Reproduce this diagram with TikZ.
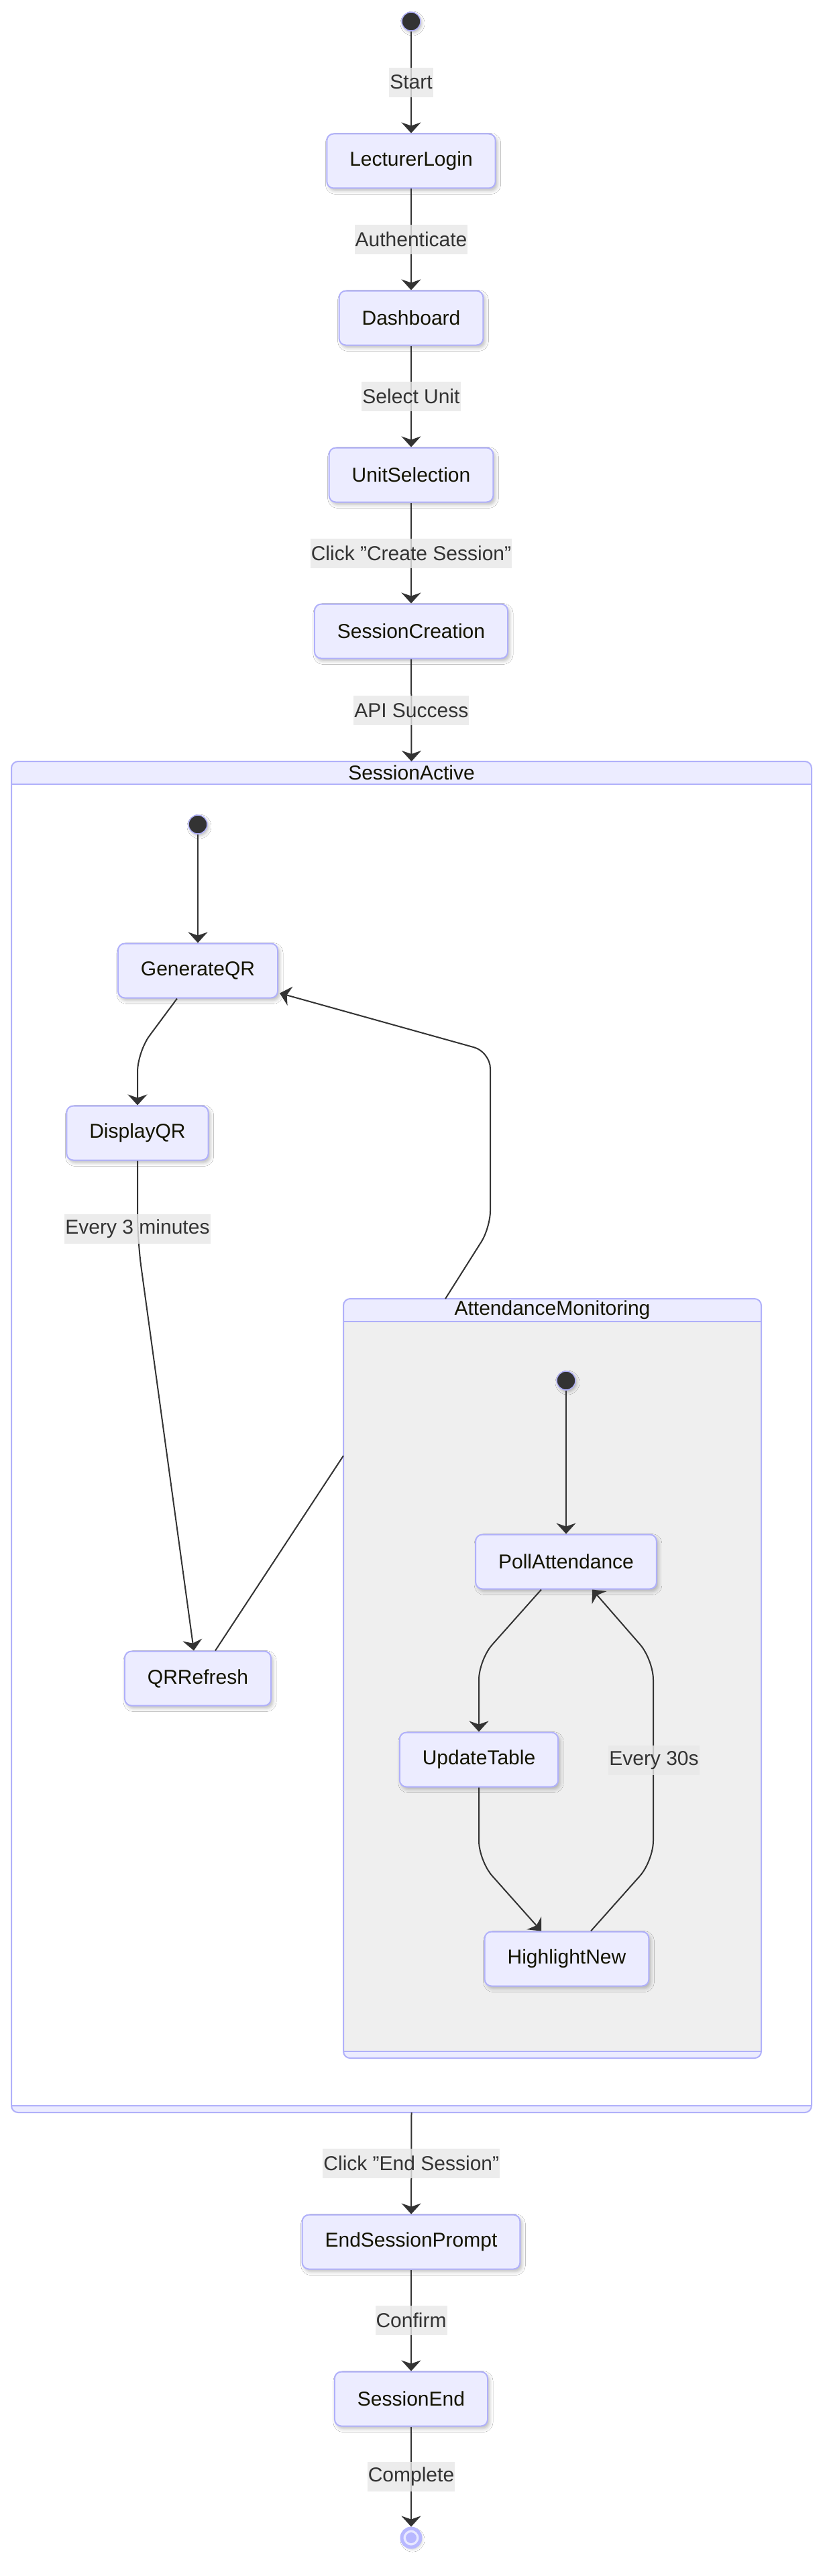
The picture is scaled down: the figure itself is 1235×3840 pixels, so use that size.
\documentclass[tikz,border=0pt]{standalone}
\usepackage{fontspec}
\setmainfont{Liberation Sans}
\usetikzlibrary{arrows.meta,shadows.blur}
\definecolor{bd}{RGB}{176,176,250}
\definecolor{nodefill}{HTML}{ECECFF}
\definecolor{amfill}{HTML}{EFEFEF}
\definecolor{edgec}{HTML}{333333}
\definecolor{lblfill}{HTML}{E8E8E8}
\definecolor{txt}{HTML}{131300}
\definecolor{endring}{RGB}{184,184,255}
\definecolor{endlight}{RGB}{232,232,255}
\tikzset{
  every node/.style={font=\fontsize{30}{35}\selectfont},
  stnode/.style={draw=bd, fill=nodefill, line width=2pt, rounded corners=10pt,
    minimum height=81pt, inner xsep=34pt, inner ysep=0pt, text=txt,
    blur shadow={shadow xshift=3pt, shadow yshift=-4pt, shadow blur radius=5pt, shadow opacity=25}},
  elabel/.style={fill=lblfill, fill opacity=0.8, text opacity=1, text=edgec,
    inner xsep=1pt, inner ysep=0pt, minimum height=44pt},
  conn/.style={draw=edgec, line width=2pt, -{Stealth[length=16pt,width=29pt,inset=5pt]}},
  plainline/.style={draw=edgec, line width=2pt},
  initst/.style={circle, fill=edgec, draw=bd, line width=1.5pt, minimum size=28pt, inner sep=0pt,
    blur shadow={shadow xshift=2pt, shadow yshift=-3pt, shadow blur radius=4pt, shadow opacity=25}},
  cbox/.style={inner sep=0pt, outer sep=0pt},
  ctitle/.style={text=txt, inner sep=0pt},
  bdline/.style={draw=bd, line width=2pt},
}
\begin{document}
\begin{tikzpicture}[x=1pt, y=-1pt]
\useasboundingbox (0,0) rectangle (1235,3840);
\fill[white] (0,0) rectangle (1235,3840);

% ---------- SessionActive container ----------
\node[cbox, minimum width=1193pt, minimum height=2014pt] (SA) at (613.5,2142) {};
\fill[white, rounded corners=10pt] (SA.south west) rectangle (SA.north east);
\begin{scope}
  \clip[rounded corners=10pt] (SA.south west) rectangle (SA.north east);
  \fill[nodefill] (SA.north west) rectangle ([yshift=-34pt]SA.north east);
  \fill[nodefill] (SA.south west) rectangle ([yshift=10pt]SA.south east);
\end{scope}
\draw[bdline] ([yshift=-34pt]SA.north west) -- ([yshift=-34pt]SA.north east);
\draw[bdline] ([yshift=10pt]SA.south west) -- ([yshift=10pt]SA.south east);
\draw[bdline, rounded corners=10pt] (SA.south west) rectangle (SA.north east);
\node[ctitle] (SAt) at ([yshift=-17pt]SA.north) {SessionActive};

% ---------- AttendanceMonitoring container ----------
\node[cbox, minimum width=623pt, minimum height=1132pt] (AM) at (823.5,2502) {};
\fill[amfill, rounded corners=10pt] (AM.south west) rectangle (AM.north east);
\begin{scope}
  \clip[rounded corners=10pt] (AM.south west) rectangle (AM.north east);
  \fill[nodefill] (AM.north west) rectangle ([yshift=-34pt]AM.north east);
  \fill[nodefill] (AM.south west) rectangle ([yshift=10pt]AM.south east);
\end{scope}
\draw[bdline] ([yshift=-34pt]AM.north west) -- ([yshift=-34pt]AM.north east);
\draw[bdline] ([yshift=10pt]AM.south west) -- ([yshift=10pt]AM.south east);
\draw[bdline, rounded corners=10pt] (AM.south west) rectangle (AM.north east);
\node[ctitle] (AMt) at ([yshift=-17pt]AM.north) {AttendanceMonitoring};

% ---------- top chain ----------
\node[initst] (start) at (613,32) {};
\node[stnode] (login) at (613,240) {LecturerLogin};
\node[stnode] (dash) at (613,474) {Dashboard};
\node[stnode] (unit) at (613,708) {UnitSelection};
\node[stnode] (create) at (613,941) {SessionCreation};

% ---------- SessionActive inner ----------
\node[initst] (s2) at (295,1229) {};
\node[stnode] (gen) at (295,1447) {GenerateQR};
\node[stnode] (disp) at (205,1689) {DisplayQR};
\node[stnode] (qrr) at (295,2502) {QRRefresh};

% ---------- AttendanceMonitoring inner ----------
\node[initst] (s3) at (844,2058) {};
\node[stnode] (poll) at (844,2328) {PollAttendance};
\node[stnode] (upd) at (714,2623) {UpdateTable};
\node[stnode] (hl) at (845,2920) {HighlightNew};

% ---------- bottom chain ----------
\node[stnode] (endp) at (613,3342) {EndSessionPrompt};
\node[stnode] (send) at (613,3576) {SessionEnd};
\node[circle, draw=endring, fill=endlight, line width=5pt, minimum size=28pt, inner sep=0pt,
  blur shadow={shadow xshift=2pt, shadow yshift=-3pt, shadow blur radius=4pt, shadow opacity=20}] (fin) at (613,3783) {};
\fill[endring] (fin.center) circle (8pt);

% ---------- connectors ----------
\draw[conn] (start) -- node[elabel] (lstart) {Start} (login);
\draw[conn] (login) -- node[elabel] (lauth) {Authenticate} (dash);
\draw[conn] (dash) -- node[elabel] (lsel) {Select Unit} (unit);
\draw[conn] (unit) -- node[elabel] (lclick) {Click "Create Session"} (create);
\draw[conn] (create) -- node[elabel] (lapi) {API Success} (SA.north);

\draw[conn] (s2) -- (gen);
\draw[conn, rounded corners=30pt] ([xshift=-31pt]gen.south) -- (205,1568) -- (disp.north);
\draw[conn, rounded corners=40pt] (disp.south) -- (205,1849) -- ([xshift=-6pt]qrr.north);
\node[elabel] (l3m) at (205,1832) {Every 3 minutes};
\draw[conn, rounded corners=25pt] ([xshift=-159.5pt]AM.north) -- (731,1830) -- (731,1568) -- ([shift={(2pt,8pt)}]gen.south east);
\draw[plainline] ([xshift=26pt]qrr.north) -- ([yshift=332pt]AM.west);

\draw[conn] (s3) -- (poll);
\draw[conn, rounded corners=30pt] ([xshift=-37pt]poll.south) -- (714,2474) -- (upd.north);
\draw[conn, rounded corners=30pt] (upd.south) -- (714,2774) -- ([xshift=-38pt]hl.north);
\draw[conn, rounded corners=30pt] ([xshift=36pt]hl.north) -- (974,2774) -- (974,2474) -- ([xshift=39pt]poll.south);
\node[elabel] (l30) at (975,2624) {Every 30s};

\draw[conn] (SA.south) -- node[elabel] (lend) {Click "End Session"} (endp);
\draw[conn] (endp) -- node[elabel] (lconf) {Confirm} (send);
\draw[conn] (send) -- node[elabel] (lcomp) {Complete} (fin);
\end{tikzpicture}
\end{document}
